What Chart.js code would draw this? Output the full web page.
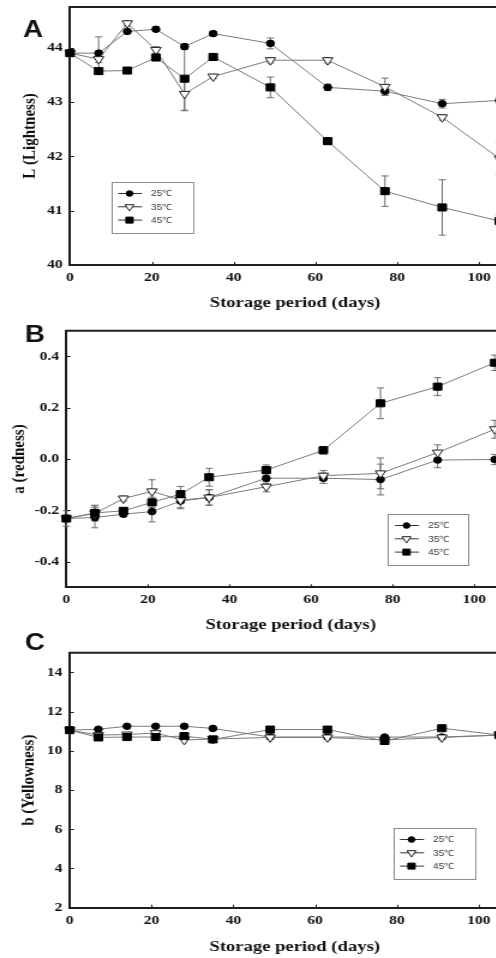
<!DOCTYPE html>
<html>
<head>
<meta charset="utf-8">
<script src="https://cdn.jsdelivr.net/npm/chart.js@4.4.1/dist/chart.umd.min.js"></script>
<style>
  html, body { margin: 0; padding: 0; background: #fff; overflow: hidden; }
  body { width: 496px; height: 958px; position: relative; }
  canvas { position: absolute; left: 0; transform: scaleX(1.2); transform-origin: 0 0; }
</style>
</head>
<body>
<canvas id="chartA" width="440" height="315" style="top:0px"></canvas>
<canvas id="chartB" width="440" height="320" style="top:315px"></canvas>
<canvas id="chartC" width="440" height="333" style="top:625px"></canvas>
<script>
const days = [0, 7, 14, 21, 28, 35, 49, 63, 77, 91, 105];
const seriesNames = ['25℃', '35℃', '45℃'];

// L (lightness)
const lightness25 = [43.90, 43.90, 44.30, 44.34, 44.02, 44.26, 44.08, 43.27, 43.20, 42.97, 43.03];
const lightness35 = [43.90, 43.79, 44.45, 43.96, 43.15, 43.47, 43.77, 43.77, 43.28, 42.72, 41.96];
const lightness45 = [43.90, 43.57, 43.58, 43.82, 43.43, 43.83, 43.27, 42.28, 41.36, 41.06, 40.81];
const lightnessErr25 = [0.03, 0.30, 0.04, 0.04, 0.05, 0.04, 0.10, 0.06, 0.05, 0.08, 0.05];
const lightnessErr35 = [0.03, 0.06, 0.05, 0.06, 0.31, 0.04, 0.05, 0.05, 0.16, 0.05, 0.30];
const lightnessErr45 = [0.03, 0.05, 0.05, 0.05, 0.58, 0.05, 0.19, 0.05, 0.28, 0.51, 0.10];
const lightnessTicks = [40, 41, 42, 43, 44];

// a (redness)
const redness25 = [-0.232, -0.228, -0.215, -0.205, -0.164, -0.150, -0.075, -0.075, -0.080, -0.004, -0.002];
const redness35 = [-0.232, -0.212, -0.154, -0.126, -0.160, -0.150, -0.108, -0.065, -0.056, 0.025, 0.116];
const redness45 = [-0.232, -0.210, -0.202, -0.169, -0.137, -0.071, -0.043, 0.034, 0.217, 0.282, 0.375];
const rednessErr25 = [0.03, 0.04, 0.01, 0.04, 0.03, 0.03, 0.02, 0.02, 0.06, 0.03, 0.02];
const rednessErr35 = [0.01, 0.03, 0.01, 0.045, 0.03, 0.03, 0.02, 0.02, 0.06, 0.03, 0.035];
const rednessErr45 = [0.01, 0.03, 0.01, 0.02, 0.03, 0.035, 0.02, 0.015, 0.06, 0.035, 0.03];
const rednessTicks = [-0.4, -0.2, 0.0, 0.2, 0.4];

// b (yellowness)
const yellowness25 = [11.05, 11.10, 11.25, 11.25, 11.25, 11.14, 10.70, 10.70, 10.70, 10.70, 10.80];
const yellowness35 = [11.05, 10.80, 10.83, 10.90, 10.55, 10.60, 10.68, 10.68, 10.55, 10.68, 10.80];
const yellowness45 = [11.05, 10.68, 10.70, 10.70, 10.75, 10.58, 11.08, 11.08, 10.50, 11.15, 10.80];
const yellownessTicks = [2, 4, 6, 8, 10, 12, 14];

const dayTicks = [0, 20, 40, 60, 80, 100];

// the whole figure is a bit wider than tall, so canvases are drawn narrow and stretched
const SX = 1.2;
const CANVAS_W = 440;

const markers = [
  { style: 'circle', radius: 3.3, fill: '#000', stroke: '#000', rotation: 0 },
  { style: 'triangle', radius: 5, fill: '#fff', stroke: '#222', rotation: 180 },
  { style: 'rect', radius: 5, fill: '#000', stroke: '#000', rotation: 0 }
];

function drawMarker(ctx, m, x, y, scale) {
  const r = m.radius * scale;
  ctx.save();
  ctx.fillStyle = m.fill;
  ctx.strokeStyle = m.stroke;
  ctx.lineWidth = 1;
  ctx.beginPath();
  if (m.style === 'circle') {
    ctx.arc(x, y, r, 0, Math.PI * 2);
  } else if (m.style === 'rect') {
    const s = r * Math.SQRT1_2;
    ctx.rect(x - s, y - s, 2 * s, 2 * s);
  } else {
    // downward triangle
    ctx.moveTo(x, y + r);
    ctx.lineTo(x - r * 0.866, y - r / 2);
    ctx.lineTo(x + r * 0.866, y - r / 2);
    ctx.closePath();
  }
  ctx.fill();
  ctx.stroke();
  ctx.restore();
}

// frame top, inward ticks, error bars, legend box and panel letter
function decorPlugin(p, series, errors) {
  return {
    id: 'decor' + p.letter,
    beforeDatasetsDraw(chart) {
      if (!errors) return;
      const ctx = chart.ctx, xs = chart.scales.x, ys = chart.scales.y;
      ctx.save();
      ctx.strokeStyle = '#6e6e6e';
      ctx.lineWidth = 1;
      errors.forEach((errs, i) => {
        days.forEach((d, j) => {
          const e = errs[j];
          if (!e) return;
          const px = xs.getPixelForValue(d);
          const top = ys.getPixelForValue(series[i][j] + e);
          const bot = ys.getPixelForValue(series[i][j] - e);
          ctx.beginPath();
          ctx.moveTo(px, top); ctx.lineTo(px, bot);
          ctx.moveTo(px - 3, top); ctx.lineTo(px + 3, top);
          ctx.moveTo(px - 3, bot); ctx.lineTo(px + 3, bot);
          ctx.stroke();
        });
      });
      ctx.restore();
    },
    afterDraw(chart) {
      const ctx = chart.ctx, area = chart.chartArea;
      const xs = chart.scales.x, ys = chart.scales.y;
      ctx.save();
      ctx.strokeStyle = '#1e1e1e';
      ctx.lineWidth = 2;
      ctx.beginPath();
      ctx.moveTo(area.left - 1, area.top);
      ctx.lineTo(area.right, area.top);
      ctx.lineTo(area.right, area.bottom);
      ctx.stroke();

      ctx.lineWidth = 1;
      xs.ticks.forEach(t => {
        const px = Math.round(xs.getPixelForValue(t.value)) + 0.5;
        ctx.beginPath();
        ctx.moveTo(px, area.bottom);
        ctx.lineTo(px, area.bottom - 3);
        ctx.stroke();
      });
      ys.ticks.forEach(t => {
        const py = Math.round(ys.getPixelForValue(t.value)) + 0.5;
        ctx.beginPath();
        ctx.moveTo(area.left, py);
        ctx.lineTo(area.left + 3.5, py);
        ctx.stroke();
      });

      // legend
      const bx = p.legend.x / SX, by = p.legend.y - p.top;
      const bw = p.legend.w / SX, bh = p.legend.h;
      ctx.strokeStyle = '#8c8c8c';
      ctx.lineWidth = 1;
      ctx.strokeRect(Math.round(bx) + 0.5, Math.round(by) + 0.5, Math.round(bw), Math.round(bh));
      ctx.font = '8.5px "Liberation Sans", Arial, sans-serif';
      ctx.textBaseline = 'middle';
      seriesNames.forEach((name, i) => {
        const ry = by + 11.5 + i * 13.3;
        ctx.strokeStyle = '#333';
        ctx.beginPath();
        ctx.moveTo(bx + 7 / SX, ry);
        ctx.lineTo(bx + 31 / SX, ry);
        ctx.stroke();
        drawMarker(ctx, markers[i], bx + 18.5 / SX, ry, 0.85);
        ctx.fillStyle = '#3a3a3a';
        ctx.fillText(name, bx + 40 / SX, ry + 0.5);
      });

      ctx.fillStyle = '#111';
      ctx.font = 'bold 23px "Liberation Sans", Arial, sans-serif';
      ctx.textBaseline = 'alphabetic';
      ctx.fillText(p.letter, p.letterX / SX, p.letterY - p.top);
      ctx.restore();
    }
  };
}

function buildPanel(p, series, errors) {
  const left = p.left / SX;
  const perDay = (p.x100 - p.left) / SX / 100;
  const xMax = 110;
  const padRight = CANVAS_W - (left + xMax * perDay);
  const plotTop = p.plotTop - p.top;
  const xHeight = p.height - (p.plotBottom - p.top);
  const titleFont = { size: 15, weight: 'bold' };
  const xTitleFont = { size: 15.5, weight: 'bold', lineHeight: 1.2 };

  const datasets = series.map((vals, i) => ({
    label: seriesNames[i],
    data: days.map((d, j) => ({ x: d, y: vals[j] })),
    borderColor: '#7a7a7a',
    borderWidth: 1,
    pointStyle: markers[i].style,
    pointRadius: markers[i].radius,
    pointRotation: markers[i].rotation,
    pointBackgroundColor: markers[i].fill,
    pointBorderColor: markers[i].stroke,
    pointBorderWidth: 1,
    tension: 0,
    clip: 6,
    order: 2 - i
  }));

  const yTicks = p.yTicks;
  return new Chart(document.getElementById(p.id), {
    type: 'line',
    data: { datasets },
    options: {
      responsive: false,
      animation: false,
      events: [],
      layout: { padding: { top: plotTop, right: padRight, bottom: 0, left: 0 } },
      plugins: { legend: { display: false }, tooltip: { enabled: false } },
      scales: {
        x: {
          type: 'linear',
          min: 0,
          max: xMax,
          afterBuildTicks: s => { s.ticks = dayTicks.map(v => ({ value: v })); },
          ticks: {
            padding: 5,
            color: '#111',
            font: { size: 13, weight: 'bold' },
            maxRotation: 0,
            autoSkip: false
          },
          grid: { drawOnChartArea: false, drawTicks: false },
          border: { color: '#1e1e1e', width: 2 },
          title: {
            display: true,
            text: 'Storage period (days)',
            color: '#111',
            font: xTitleFont,
            padding: { top: 0, bottom: p.height - (p.xTitleY - p.top) - 9.3 }
          },
          afterFit: s => { s.height = xHeight; s.paddingLeft = 0; s.paddingRight = 0; }
        },
        y: {
          min: p.yMin,
          max: p.yMax,
          afterBuildTicks: s => { s.ticks = yTicks.map(v => ({ value: v })); },
          ticks: {
            padding: 6,
            color: '#111',
            font: { size: 13, weight: 'bold' },
            callback: v => p.yDigits ? v.toFixed(p.yDigits) : String(v)
          },
          grid: { drawOnChartArea: false, drawTicks: false },
          border: { color: '#1e1e1e', width: 2 },
          title: {
            display: true,
            text: p.yTitle,
            color: '#111',
            font: titleFont,
            padding: { top: p.yTitleX / SX - 9, bottom: 0 }
          },
          afterFit: s => { s.width = left; s.paddingTop = 0; s.paddingBottom = 0; }
        }
      }
    },
    plugins: [decorPlugin(p, series, errors)]
  });
}

Chart.defaults.font.family = '"Liberation Serif", "Times New Roman", serif';

buildPanel({
  id: 'chartA', letter: 'A', letterX: 23, letterY: 37,
  top: 0, height: 315, left: 70, x100: 479, plotTop: 7, plotBottom: 265,
  xTitleY: 303, yTitleX: 30, yTitle: 'L (Lightness)',
  yMin: 40, yMax: 44.75, yTicks: lightnessTicks, yDigits: 0,
  legend: { x: 111, y: 182, w: 81, h: 51 }
}, [lightness25, lightness35, lightness45], [lightnessErr25, lightnessErr35, lightnessErr45]);

buildPanel({
  id: 'chartB', letter: 'B', letterX: 25, letterY: 342,
  top: 315, height: 320, left: 66.3, x100: 474.3, plotTop: 330.7, plotBottom: 587.3,
  xTitleY: 625, yTitleX: 19, yTitle: 'a (redness)',
  yMin: -0.5, yMax: 0.5, yTicks: rednessTicks, yDigits: 1,
  legend: { x: 388, y: 514, w: 80, h: 51 }
}, [redness25, redness35, redness45], [rednessErr25, rednessErr35, rednessErr45]);

buildPanel({
  id: 'chartC', letter: 'C', letterX: 25, letterY: 650,
  top: 625, height: 333, left: 69.7, x100: 478.7, plotTop: 652.7, plotBottom: 907.7,
  xTitleY: 946.7, yTitleX: 29, yTitle: 'b (Yellowness)',
  yMin: 2, yMax: 15, yTicks: yellownessTicks, yDigits: 0,
  legend: { x: 393, y: 828, w: 81, h: 51 }
}, [yellowness25, yellowness35, yellowness45], null);
</script>
</body>
</html>
